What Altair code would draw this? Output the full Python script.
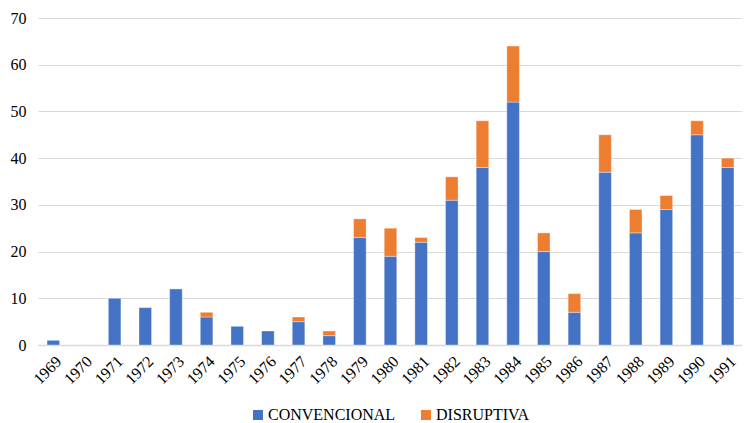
import altair as alt
import pandas as pd

years = [str(y) for y in range(1969, 1992)]
convencional = [1, 0, 10, 8, 12, 6, 4, 3, 5, 2, 23, 19, 22, 31, 38, 52, 20, 7, 37, 24, 29, 45, 38]
disruptiva = [0, 0, 0, 0, 0, 1, 0, 0, 1, 1, 4, 6, 1, 5, 10, 12, 4, 4, 8, 5, 3, 3, 2]
series = ["CONVENCIONAL", "DISRUPTIVA"]
colors = ["#4472C4", "#ED7D31"]

rows = []
for y, c, d in zip(years, convencional, disruptiva):
    rows.append({"year": y, "serie": series[0], "value": c, "order": 0})
    rows.append({"year": y, "serie": series[1], "value": d, "order": 1})
df = pd.DataFrame(rows)

font = "Liberation Serif"

chart = alt.Chart(df).mark_bar(stroke="#ffffff", strokeWidth=0.6, strokeOpacity=0.6).encode(
    x=alt.X("year:N", sort=years, title=None,
            scale=alt.Scale(domain=years, range=[0, 705], paddingInner=0.59, paddingOuter=0.295),
            axis=alt.Axis(labelAngle=-45, labelAlign="right", labelBaseline="top",
                          labelFontSize=16, labelFont=font, labelColor="#000000",
                          ticks=False, domainColor="#D9D9D9", domainWidth=1.5,
                          labelPadding=8)),
    y=alt.Y("value:Q", stack="zero", title=None,
            scale=alt.Scale(domain=[0, 70]),
            axis=alt.Axis(values=list(range(0, 71, 10)), labelFontSize=16, labelFont=font,
                          labelColor="#000000", ticks=False, domain=False,
                          gridColor="#D9D9D9", gridWidth=1.2, labelPadding=12)),
    color=alt.Color("serie:N", scale=alt.Scale(domain=series, range=colors),
                    legend=alt.Legend(title=None, orient="none", direction="horizontal",
                                      legendX=212, legendY=389, symbolType="square",
                                      symbolSize=100, symbolStrokeWidth=0,
                                      labelFont=font, labelFontSize=16, labelColor="#000000",
                                      columnPadding=22, labelOffset=2)),
    order=alt.Order("order:Q", sort="ascending"),
).transform_filter(
    alt.datum.value > 0
).properties(
    width=704, height=327,
    autosize=alt.AutoSizeParams(type="none"),
    padding={"left": 30, "top": 10, "right": 0, "bottom": 80},
).configure_view(stroke=None)

chart.save("out.html", embed_options={"renderer": "svg", "actions": False})
